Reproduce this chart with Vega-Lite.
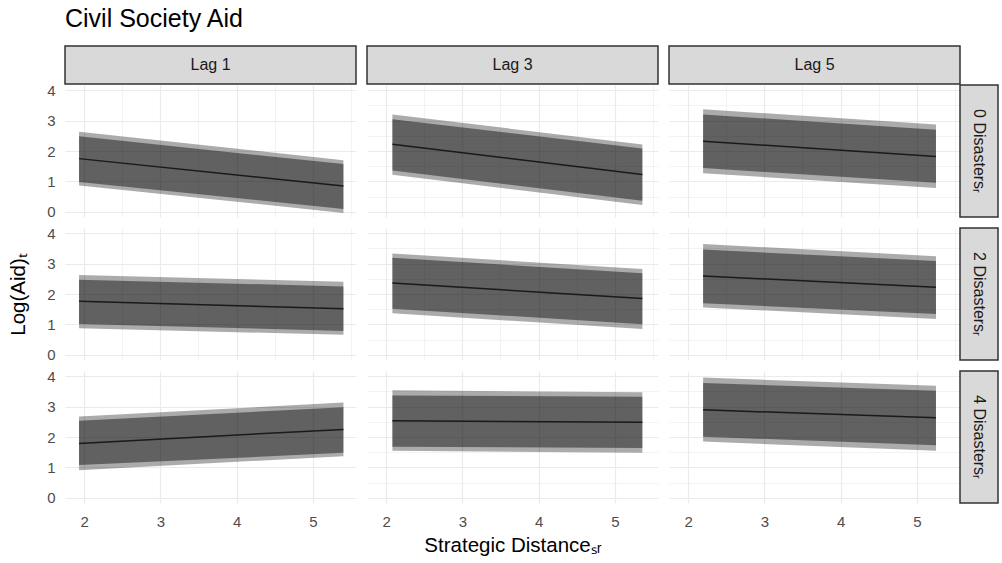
{
  "$schema": "https://vega.github.io/schema/vega-lite/v6.json",
  "padding": {"left": 8, "top": 7, "right": 1, "bottom": 2},
  "background": "white",
  "title": {"text": "Civil Society Aid", "anchor": "start", "frame": "group", "fontSize": 25, "fontWeight": "normal", "font": "Liberation Sans", "color": "#000000", "offset": 13},
  "datasets": {
    "pred": [
      {"lag": "Lag 1", "dis": "0 Disasters", "x": 1.934, "fit": 1.75, "lo90": 0.98, "hi90": 2.48, "lo95": 0.87, "hi95": 2.63},
      {"lag": "Lag 1", "dis": "0 Disasters", "x": 5.40, "fit": 0.85, "lo90": 0.10, "hi90": 1.57, "lo95": -0.03, "hi95": 1.70},
      {"lag": "Lag 1", "dis": "2 Disasters", "x": 1.934, "fit": 1.76, "lo90": 1.02, "hi90": 2.47, "lo95": 0.88, "hi95": 2.62},
      {"lag": "Lag 1", "dis": "2 Disasters", "x": 5.40, "fit": 1.52, "lo90": 0.79, "hi90": 2.25, "lo95": 0.66, "hi95": 2.40},
      {"lag": "Lag 1", "dis": "4 Disasters", "x": 1.934, "fit": 1.79, "lo90": 1.08, "hi90": 2.53, "lo95": 0.91, "hi95": 2.67},
      {"lag": "Lag 1", "dis": "4 Disasters", "x": 5.40, "fit": 2.25, "lo90": 1.48, "hi90": 2.98, "lo95": 1.37, "hi95": 3.13},
      {"lag": "Lag 3", "dis": "0 Disasters", "x": 2.083, "fit": 2.22, "lo90": 1.36, "hi90": 3.04, "lo95": 1.22, "hi95": 3.20},
      {"lag": "Lag 3", "dis": "0 Disasters", "x": 5.36, "fit": 1.23, "lo90": 0.37, "hi90": 2.08, "lo95": 0.23, "hi95": 2.21},
      {"lag": "Lag 3", "dis": "2 Disasters", "x": 2.083, "fit": 2.36, "lo90": 1.52, "hi90": 3.19, "lo95": 1.37, "hi95": 3.33},
      {"lag": "Lag 3", "dis": "2 Disasters", "x": 5.36, "fit": 1.85, "lo90": 1.01, "hi90": 2.68, "lo95": 0.85, "hi95": 2.82},
      {"lag": "Lag 3", "dis": "4 Disasters", "x": 2.083, "fit": 2.53, "lo90": 1.68, "hi90": 3.36, "lo95": 1.55, "hi95": 3.53},
      {"lag": "Lag 3", "dis": "4 Disasters", "x": 5.36, "fit": 2.48, "lo90": 1.64, "hi90": 3.32, "lo95": 1.48, "hi95": 3.47},
      {"lag": "Lag 5", "dis": "0 Disasters", "x": 2.197, "fit": 2.32, "lo90": 1.44, "hi90": 3.20, "lo95": 1.27, "hi95": 3.37},
      {"lag": "Lag 5", "dis": "0 Disasters", "x": 5.25, "fit": 1.82, "lo90": 0.96, "hi90": 2.70, "lo95": 0.79, "hi95": 2.87},
      {"lag": "Lag 5", "dis": "2 Disasters", "x": 2.197, "fit": 2.59, "lo90": 1.70, "hi90": 3.46, "lo95": 1.56, "hi95": 3.64},
      {"lag": "Lag 5", "dis": "2 Disasters", "x": 5.25, "fit": 2.22, "lo90": 1.34, "hi90": 3.08, "lo95": 1.18, "hi95": 3.24},
      {"lag": "Lag 5", "dis": "4 Disasters", "x": 2.197, "fit": 2.89, "lo90": 2.01, "hi90": 3.77, "lo95": 1.85, "hi95": 3.95},
      {"lag": "Lag 5", "dis": "4 Disasters", "x": 5.25, "fit": 2.63, "lo90": 1.73, "hi90": 3.52, "lo95": 1.55, "hi95": 3.68}
    ]
  },
  "spacing": -3,
  "vconcat": [
    {
      "spacing": 11,
      "bounds": "flush",
      "hconcat": [
        {"width": 291, "height": 38, "view": {"fill": "#d9d9d9", "stroke": "#333333", "strokeWidth": 1.5}, "data": {"values": [{"label": "Lag 1"}]}, "mark": {"type": "text", "fontSize": 16, "color": "#1a1a1a", "font": "Liberation Sans"}, "encoding": {"text": {"field": "label"}}},
        {"width": 291, "height": 38, "view": {"fill": "#d9d9d9", "stroke": "#333333", "strokeWidth": 1.5}, "data": {"values": [{"label": "Lag 3"}]}, "mark": {"type": "text", "fontSize": 16, "color": "#1a1a1a", "font": "Liberation Sans"}, "encoding": {"text": {"field": "label"}}},
        {"width": 291, "height": 38, "view": {"fill": "#d9d9d9", "stroke": "#333333", "strokeWidth": 1.5}, "data": {"values": [{"label": "Lag 5"}]}, "mark": {"type": "text", "fontSize": 16, "color": "#1a1a1a", "font": "Liberation Sans"}, "encoding": {"text": {"field": "label"}}}
      ]
    },
    {
      "spacing": -1,
      "hconcat": [
        {
          "columns": 3,
          "spacing": 11,
          "bounds": "flush",
          "align": "each",
          "concat": [
            {"width": 291, "height": 132, "data": {"name": "pred"}, "transform": [{"filter": "datum.lag === 'Lag 1' && datum.dis === '0 Disasters'"}],
             "encoding": {"x": {"field": "x", "type": "quantitative", "scale": {"domain": [1.75, 5.565], "nice": false, "zero": false}, "axis": {"values": [2, 2.5, 3, 3.5, 4, 4.5, 5, 5.5], "labels": false, "title": null, "gridWidth": {"condition": {"test": "datum.value % 1 === 0", "value": 1.2}, "value": 0.6}}}},
             "layer": [
               {"mark": {"type": "area", "color": "#000000", "opacity": 0.33}, "encoding": {"y": {"field": "lo95", "type": "quantitative", "scale": {"domain": [-0.165, 4.165], "nice": false, "zero": false}, "axis": {"values": [0, 0.5, 1, 1.5, 2, 2.5, 3, 3.5, 4], "labels": true, "format": "d", "labelExpr": "datum.value % 1 === 0 ? datum.label : ''", "title": null, "gridWidth": {"condition": {"test": "datum.value % 1 === 0", "value": 1.2}, "value": 0.6}}}, "y2": {"field": "hi95"}}},
               {"mark": {"type": "area", "color": "#000000", "opacity": 0.43}, "encoding": {"y": {"field": "lo90", "type": "quantitative", "scale": {"domain": [-0.165, 4.165], "nice": false, "zero": false}, "axis": {"values": [0, 0.5, 1, 1.5, 2, 2.5, 3, 3.5, 4], "labels": true, "format": "d", "labelExpr": "datum.value % 1 === 0 ? datum.label : ''", "title": null, "gridWidth": {"condition": {"test": "datum.value % 1 === 0", "value": 1.2}, "value": 0.6}}}, "y2": {"field": "hi90"}}},
               {"mark": {"type": "line", "color": "#1a1a1a", "strokeWidth": 1.5}, "encoding": {"y": {"field": "fit", "type": "quantitative", "scale": {"domain": [-0.165, 4.165], "nice": false, "zero": false}, "axis": {"values": [0, 0.5, 1, 1.5, 2, 2.5, 3, 3.5, 4], "labels": true, "format": "d", "labelExpr": "datum.value % 1 === 0 ? datum.label : ''", "title": null, "gridWidth": {"condition": {"test": "datum.value % 1 === 0", "value": 1.2}, "value": 0.6}}}}}
             ]},
            {"width": 291, "height": 132, "data": {"name": "pred"}, "transform": [{"filter": "datum.lag === 'Lag 3' && datum.dis === '0 Disasters'"}],
             "encoding": {"x": {"field": "x", "type": "quantitative", "scale": {"domain": [1.75, 5.565], "nice": false, "zero": false}, "axis": {"values": [2, 2.5, 3, 3.5, 4, 4.5, 5, 5.5], "labels": false, "title": null, "gridWidth": {"condition": {"test": "datum.value % 1 === 0", "value": 1.2}, "value": 0.6}}}},
             "layer": [
               {"mark": {"type": "area", "color": "#000000", "opacity": 0.33}, "encoding": {"y": {"field": "lo95", "type": "quantitative", "scale": {"domain": [-0.165, 4.165], "nice": false, "zero": false}, "axis": {"values": [0, 0.5, 1, 1.5, 2, 2.5, 3, 3.5, 4], "labels": false, "title": null, "gridWidth": {"condition": {"test": "datum.value % 1 === 0", "value": 1.2}, "value": 0.6}}}, "y2": {"field": "hi95"}}},
               {"mark": {"type": "area", "color": "#000000", "opacity": 0.43}, "encoding": {"y": {"field": "lo90", "type": "quantitative", "scale": {"domain": [-0.165, 4.165], "nice": false, "zero": false}, "axis": {"values": [0, 0.5, 1, 1.5, 2, 2.5, 3, 3.5, 4], "labels": false, "title": null, "gridWidth": {"condition": {"test": "datum.value % 1 === 0", "value": 1.2}, "value": 0.6}}}, "y2": {"field": "hi90"}}},
               {"mark": {"type": "line", "color": "#1a1a1a", "strokeWidth": 1.5}, "encoding": {"y": {"field": "fit", "type": "quantitative", "scale": {"domain": [-0.165, 4.165], "nice": false, "zero": false}, "axis": {"values": [0, 0.5, 1, 1.5, 2, 2.5, 3, 3.5, 4], "labels": false, "title": null, "gridWidth": {"condition": {"test": "datum.value % 1 === 0", "value": 1.2}, "value": 0.6}}}}}
             ]},
            {"width": 291, "height": 132, "data": {"name": "pred"}, "transform": [{"filter": "datum.lag === 'Lag 5' && datum.dis === '0 Disasters'"}],
             "encoding": {"x": {"field": "x", "type": "quantitative", "scale": {"domain": [1.75, 5.565], "nice": false, "zero": false}, "axis": {"values": [2, 2.5, 3, 3.5, 4, 4.5, 5, 5.5], "labels": false, "title": null, "gridWidth": {"condition": {"test": "datum.value % 1 === 0", "value": 1.2}, "value": 0.6}}}},
             "layer": [
               {"mark": {"type": "area", "color": "#000000", "opacity": 0.33}, "encoding": {"y": {"field": "lo95", "type": "quantitative", "scale": {"domain": [-0.165, 4.165], "nice": false, "zero": false}, "axis": {"values": [0, 0.5, 1, 1.5, 2, 2.5, 3, 3.5, 4], "labels": false, "title": null, "gridWidth": {"condition": {"test": "datum.value % 1 === 0", "value": 1.2}, "value": 0.6}}}, "y2": {"field": "hi95"}}},
               {"mark": {"type": "area", "color": "#000000", "opacity": 0.43}, "encoding": {"y": {"field": "lo90", "type": "quantitative", "scale": {"domain": [-0.165, 4.165], "nice": false, "zero": false}, "axis": {"values": [0, 0.5, 1, 1.5, 2, 2.5, 3, 3.5, 4], "labels": false, "title": null, "gridWidth": {"condition": {"test": "datum.value % 1 === 0", "value": 1.2}, "value": 0.6}}}, "y2": {"field": "hi90"}}},
               {"mark": {"type": "line", "color": "#1a1a1a", "strokeWidth": 1.5}, "encoding": {"y": {"field": "fit", "type": "quantitative", "scale": {"domain": [-0.165, 4.165], "nice": false, "zero": false}, "axis": {"values": [0, 0.5, 1, 1.5, 2, 2.5, 3, 3.5, 4], "labels": false, "title": null, "gridWidth": {"condition": {"test": "datum.value % 1 === 0", "value": 1.2}, "value": 0.6}}}}}
             ]},
            {"width": 291, "height": 132, "data": {"name": "pred"}, "transform": [{"filter": "datum.lag === 'Lag 1' && datum.dis === '2 Disasters'"}],
             "encoding": {"x": {"field": "x", "type": "quantitative", "scale": {"domain": [1.75, 5.565], "nice": false, "zero": false}, "axis": {"values": [2, 2.5, 3, 3.5, 4, 4.5, 5, 5.5], "labels": false, "title": null, "gridWidth": {"condition": {"test": "datum.value % 1 === 0", "value": 1.2}, "value": 0.6}}}},
             "layer": [
               {"mark": {"type": "area", "color": "#000000", "opacity": 0.33}, "encoding": {"y": {"field": "lo95", "type": "quantitative", "scale": {"domain": [-0.165, 4.165], "nice": false, "zero": false}, "axis": {"values": [0, 0.5, 1, 1.5, 2, 2.5, 3, 3.5, 4], "labels": true, "format": "d", "labelExpr": "datum.value % 1 === 0 ? datum.label : ''", "title": "Log(Aid)ₜ", "gridWidth": {"condition": {"test": "datum.value % 1 === 0", "value": 1.2}, "value": 0.6}}}, "y2": {"field": "hi95"}}},
               {"mark": {"type": "area", "color": "#000000", "opacity": 0.43}, "encoding": {"y": {"field": "lo90", "type": "quantitative", "scale": {"domain": [-0.165, 4.165], "nice": false, "zero": false}, "axis": {"values": [0, 0.5, 1, 1.5, 2, 2.5, 3, 3.5, 4], "labels": true, "format": "d", "labelExpr": "datum.value % 1 === 0 ? datum.label : ''", "title": "Log(Aid)ₜ", "gridWidth": {"condition": {"test": "datum.value % 1 === 0", "value": 1.2}, "value": 0.6}}}, "y2": {"field": "hi90"}}},
               {"mark": {"type": "line", "color": "#1a1a1a", "strokeWidth": 1.5}, "encoding": {"y": {"field": "fit", "type": "quantitative", "scale": {"domain": [-0.165, 4.165], "nice": false, "zero": false}, "axis": {"values": [0, 0.5, 1, 1.5, 2, 2.5, 3, 3.5, 4], "labels": true, "format": "d", "labelExpr": "datum.value % 1 === 0 ? datum.label : ''", "title": "Log(Aid)ₜ", "gridWidth": {"condition": {"test": "datum.value % 1 === 0", "value": 1.2}, "value": 0.6}}}}}
             ]},
            {"width": 291, "height": 132, "data": {"name": "pred"}, "transform": [{"filter": "datum.lag === 'Lag 3' && datum.dis === '2 Disasters'"}],
             "encoding": {"x": {"field": "x", "type": "quantitative", "scale": {"domain": [1.75, 5.565], "nice": false, "zero": false}, "axis": {"values": [2, 2.5, 3, 3.5, 4, 4.5, 5, 5.5], "labels": false, "title": null, "gridWidth": {"condition": {"test": "datum.value % 1 === 0", "value": 1.2}, "value": 0.6}}}},
             "layer": [
               {"mark": {"type": "area", "color": "#000000", "opacity": 0.33}, "encoding": {"y": {"field": "lo95", "type": "quantitative", "scale": {"domain": [-0.165, 4.165], "nice": false, "zero": false}, "axis": {"values": [0, 0.5, 1, 1.5, 2, 2.5, 3, 3.5, 4], "labels": false, "title": null, "gridWidth": {"condition": {"test": "datum.value % 1 === 0", "value": 1.2}, "value": 0.6}}}, "y2": {"field": "hi95"}}},
               {"mark": {"type": "area", "color": "#000000", "opacity": 0.43}, "encoding": {"y": {"field": "lo90", "type": "quantitative", "scale": {"domain": [-0.165, 4.165], "nice": false, "zero": false}, "axis": {"values": [0, 0.5, 1, 1.5, 2, 2.5, 3, 3.5, 4], "labels": false, "title": null, "gridWidth": {"condition": {"test": "datum.value % 1 === 0", "value": 1.2}, "value": 0.6}}}, "y2": {"field": "hi90"}}},
               {"mark": {"type": "line", "color": "#1a1a1a", "strokeWidth": 1.5}, "encoding": {"y": {"field": "fit", "type": "quantitative", "scale": {"domain": [-0.165, 4.165], "nice": false, "zero": false}, "axis": {"values": [0, 0.5, 1, 1.5, 2, 2.5, 3, 3.5, 4], "labels": false, "title": null, "gridWidth": {"condition": {"test": "datum.value % 1 === 0", "value": 1.2}, "value": 0.6}}}}}
             ]},
            {"width": 291, "height": 132, "data": {"name": "pred"}, "transform": [{"filter": "datum.lag === 'Lag 5' && datum.dis === '2 Disasters'"}],
             "encoding": {"x": {"field": "x", "type": "quantitative", "scale": {"domain": [1.75, 5.565], "nice": false, "zero": false}, "axis": {"values": [2, 2.5, 3, 3.5, 4, 4.5, 5, 5.5], "labels": false, "title": null, "gridWidth": {"condition": {"test": "datum.value % 1 === 0", "value": 1.2}, "value": 0.6}}}},
             "layer": [
               {"mark": {"type": "area", "color": "#000000", "opacity": 0.33}, "encoding": {"y": {"field": "lo95", "type": "quantitative", "scale": {"domain": [-0.165, 4.165], "nice": false, "zero": false}, "axis": {"values": [0, 0.5, 1, 1.5, 2, 2.5, 3, 3.5, 4], "labels": false, "title": null, "gridWidth": {"condition": {"test": "datum.value % 1 === 0", "value": 1.2}, "value": 0.6}}}, "y2": {"field": "hi95"}}},
               {"mark": {"type": "area", "color": "#000000", "opacity": 0.43}, "encoding": {"y": {"field": "lo90", "type": "quantitative", "scale": {"domain": [-0.165, 4.165], "nice": false, "zero": false}, "axis": {"values": [0, 0.5, 1, 1.5, 2, 2.5, 3, 3.5, 4], "labels": false, "title": null, "gridWidth": {"condition": {"test": "datum.value % 1 === 0", "value": 1.2}, "value": 0.6}}}, "y2": {"field": "hi90"}}},
               {"mark": {"type": "line", "color": "#1a1a1a", "strokeWidth": 1.5}, "encoding": {"y": {"field": "fit", "type": "quantitative", "scale": {"domain": [-0.165, 4.165], "nice": false, "zero": false}, "axis": {"values": [0, 0.5, 1, 1.5, 2, 2.5, 3, 3.5, 4], "labels": false, "title": null, "gridWidth": {"condition": {"test": "datum.value % 1 === 0", "value": 1.2}, "value": 0.6}}}}}
             ]},
            {"width": 291, "height": 132, "data": {"name": "pred"}, "transform": [{"filter": "datum.lag === 'Lag 1' && datum.dis === '4 Disasters'"}],
             "encoding": {"x": {"field": "x", "type": "quantitative", "scale": {"domain": [1.75, 5.565], "nice": false, "zero": false}, "axis": {"values": [2, 2.5, 3, 3.5, 4, 4.5, 5, 5.5], "labels": true, "format": "d", "labelExpr": "datum.value % 1 === 0 ? datum.label : ''", "title": null, "gridWidth": {"condition": {"test": "datum.value % 1 === 0", "value": 1.2}, "value": 0.6}}}},
             "layer": [
               {"mark": {"type": "area", "color": "#000000", "opacity": 0.33}, "encoding": {"y": {"field": "lo95", "type": "quantitative", "scale": {"domain": [-0.165, 4.165], "nice": false, "zero": false}, "axis": {"values": [0, 0.5, 1, 1.5, 2, 2.5, 3, 3.5, 4], "labels": true, "format": "d", "labelExpr": "datum.value % 1 === 0 ? datum.label : ''", "title": null, "gridWidth": {"condition": {"test": "datum.value % 1 === 0", "value": 1.2}, "value": 0.6}}}, "y2": {"field": "hi95"}}},
               {"mark": {"type": "area", "color": "#000000", "opacity": 0.43}, "encoding": {"y": {"field": "lo90", "type": "quantitative", "scale": {"domain": [-0.165, 4.165], "nice": false, "zero": false}, "axis": {"values": [0, 0.5, 1, 1.5, 2, 2.5, 3, 3.5, 4], "labels": true, "format": "d", "labelExpr": "datum.value % 1 === 0 ? datum.label : ''", "title": null, "gridWidth": {"condition": {"test": "datum.value % 1 === 0", "value": 1.2}, "value": 0.6}}}, "y2": {"field": "hi90"}}},
               {"mark": {"type": "line", "color": "#1a1a1a", "strokeWidth": 1.5}, "encoding": {"y": {"field": "fit", "type": "quantitative", "scale": {"domain": [-0.165, 4.165], "nice": false, "zero": false}, "axis": {"values": [0, 0.5, 1, 1.5, 2, 2.5, 3, 3.5, 4], "labels": true, "format": "d", "labelExpr": "datum.value % 1 === 0 ? datum.label : ''", "title": null, "gridWidth": {"condition": {"test": "datum.value % 1 === 0", "value": 1.2}, "value": 0.6}}}}}
             ]},
            {"width": 291, "height": 132, "data": {"name": "pred"}, "transform": [{"filter": "datum.lag === 'Lag 3' && datum.dis === '4 Disasters'"}],
             "encoding": {"x": {"field": "x", "type": "quantitative", "scale": {"domain": [1.75, 5.565], "nice": false, "zero": false}, "axis": {"values": [2, 2.5, 3, 3.5, 4, 4.5, 5, 5.5], "labels": true, "format": "d", "labelExpr": "datum.value % 1 === 0 ? datum.label : ''", "title": "Strategic Distanceₛᵣ", "gridWidth": {"condition": {"test": "datum.value % 1 === 0", "value": 1.2}, "value": 0.6}}}},
             "layer": [
               {"mark": {"type": "area", "color": "#000000", "opacity": 0.33}, "encoding": {"y": {"field": "lo95", "type": "quantitative", "scale": {"domain": [-0.165, 4.165], "nice": false, "zero": false}, "axis": {"values": [0, 0.5, 1, 1.5, 2, 2.5, 3, 3.5, 4], "labels": false, "title": null, "gridWidth": {"condition": {"test": "datum.value % 1 === 0", "value": 1.2}, "value": 0.6}}}, "y2": {"field": "hi95"}}},
               {"mark": {"type": "area", "color": "#000000", "opacity": 0.43}, "encoding": {"y": {"field": "lo90", "type": "quantitative", "scale": {"domain": [-0.165, 4.165], "nice": false, "zero": false}, "axis": {"values": [0, 0.5, 1, 1.5, 2, 2.5, 3, 3.5, 4], "labels": false, "title": null, "gridWidth": {"condition": {"test": "datum.value % 1 === 0", "value": 1.2}, "value": 0.6}}}, "y2": {"field": "hi90"}}},
               {"mark": {"type": "line", "color": "#1a1a1a", "strokeWidth": 1.5}, "encoding": {"y": {"field": "fit", "type": "quantitative", "scale": {"domain": [-0.165, 4.165], "nice": false, "zero": false}, "axis": {"values": [0, 0.5, 1, 1.5, 2, 2.5, 3, 3.5, 4], "labels": false, "title": null, "gridWidth": {"condition": {"test": "datum.value % 1 === 0", "value": 1.2}, "value": 0.6}}}}}
             ]},
            {"width": 291, "height": 132, "data": {"name": "pred"}, "transform": [{"filter": "datum.lag === 'Lag 5' && datum.dis === '4 Disasters'"}],
             "encoding": {"x": {"field": "x", "type": "quantitative", "scale": {"domain": [1.75, 5.565], "nice": false, "zero": false}, "axis": {"values": [2, 2.5, 3, 3.5, 4, 4.5, 5, 5.5], "labels": true, "format": "d", "labelExpr": "datum.value % 1 === 0 ? datum.label : ''", "title": null, "gridWidth": {"condition": {"test": "datum.value % 1 === 0", "value": 1.2}, "value": 0.6}}}},
             "layer": [
               {"mark": {"type": "area", "color": "#000000", "opacity": 0.33}, "encoding": {"y": {"field": "lo95", "type": "quantitative", "scale": {"domain": [-0.165, 4.165], "nice": false, "zero": false}, "axis": {"values": [0, 0.5, 1, 1.5, 2, 2.5, 3, 3.5, 4], "labels": false, "title": null, "gridWidth": {"condition": {"test": "datum.value % 1 === 0", "value": 1.2}, "value": 0.6}}}, "y2": {"field": "hi95"}}},
               {"mark": {"type": "area", "color": "#000000", "opacity": 0.43}, "encoding": {"y": {"field": "lo90", "type": "quantitative", "scale": {"domain": [-0.165, 4.165], "nice": false, "zero": false}, "axis": {"values": [0, 0.5, 1, 1.5, 2, 2.5, 3, 3.5, 4], "labels": false, "title": null, "gridWidth": {"condition": {"test": "datum.value % 1 === 0", "value": 1.2}, "value": 0.6}}}, "y2": {"field": "hi90"}}},
               {"mark": {"type": "line", "color": "#1a1a1a", "strokeWidth": 1.5}, "encoding": {"y": {"field": "fit", "type": "quantitative", "scale": {"domain": [-0.165, 4.165], "nice": false, "zero": false}, "axis": {"values": [0, 0.5, 1, 1.5, 2, 2.5, 3, 3.5, 4], "labels": false, "title": null, "gridWidth": {"condition": {"test": "datum.value % 1 === 0", "value": 1.2}, "value": 0.6}}}}}
             ]}
          ]
        },
        {
          "spacing": 11,
          "bounds": "flush",
          "vconcat": [
            {"width": 38, "height": 132, "view": {"fill": "#d9d9d9", "stroke": "#333333", "strokeWidth": 1.5}, "data": {"values": [{"label": "0 Disastersᵣ"}]}, "mark": {"type": "text", "fontSize": 16, "color": "#1a1a1a", "font": "Liberation Sans", "angle": 90}, "encoding": {"text": {"field": "label"}}},
            {"width": 38, "height": 132, "view": {"fill": "#d9d9d9", "stroke": "#333333", "strokeWidth": 1.5}, "data": {"values": [{"label": "2 Disastersᵣ"}]}, "mark": {"type": "text", "fontSize": 16, "color": "#1a1a1a", "font": "Liberation Sans", "angle": 90}, "encoding": {"text": {"field": "label"}}},
            {"width": 38, "height": 132, "view": {"fill": "#d9d9d9", "stroke": "#333333", "strokeWidth": 1.5}, "data": {"values": [{"label": "4 Disastersᵣ"}]}, "mark": {"type": "text", "fontSize": 16, "color": "#1a1a1a", "font": "Liberation Sans", "angle": 90}, "encoding": {"text": {"field": "label"}}}
          ]
        }
      ]
    }
  ],
  "config": {
    "font": "Liberation Sans",
    "view": {"stroke": null},
    "axis": {"domain": false, "ticks": false, "tickSize": 0, "gridColor": "#ebebeb", "labelColor": "#4d4d4d", "labelFontSize": 15, "labelFont": "Liberation Sans", "titleFont": "Liberation Sans", "titleFontSize": 20.5, "titleFontWeight": "normal", "titleColor": "#000000", "labelFlush": false, "labelOverlap": false},
    "axisX": {"labelPadding": 11, "titlePadding": 6},
    "axisY": {"labelPadding": 10, "titlePadding": 18}
  }
}
